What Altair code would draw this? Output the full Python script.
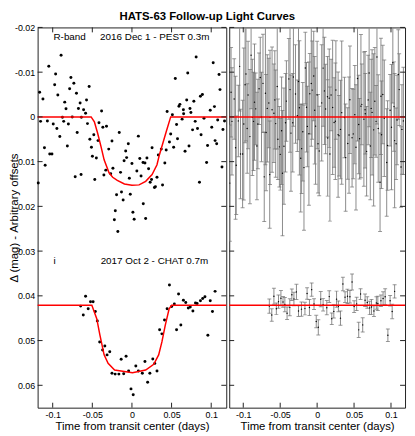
import altair as alt
import numpy as np
import pandas as pd

# ---------------- data ----------------
# R-band light curve (2016 Dec 1 - PEST 0.3m)
t_R = [-0.0894,-0.1049,-0.0963,-0.0770,-0.0733,-0.0975,-0.0786,-0.0540,-0.1165,-0.0935,
       -0.0700,-0.1123,-0.0573,-0.0848,-0.0654,-0.0832,-0.0675,-0.0610,-0.0585,-0.0383,
       -0.0877,-0.0753,-0.0638,-0.1153,-0.1067,-0.0861,-0.0993,-0.0802,-0.0561,-0.0416,
       -0.0367,-0.0321,-0.0947,-0.0691,-0.0160,-0.0481,-0.0910,-0.0531,-0.0428,-0.0252,
       -0.0046,-0.0815,-0.1104,-0.0511,-0.0293,-0.0079,-0.1037,-0.1009,-0.0499,-0.0449,
       -0.0067,
       0.0810,0.1025,0.0704,0.1099,0.0547,0.1111,0.0889,0.0864,0.0691,0.0781,
       0.0605,0.0593,0.0732,0.0649,0.1041,0.0988,0.0444,0.0744,0.0510,0.0652,
       0.0909,0.1082,0.0633,0.1168,0.0798,0.0563,0.1007,0.1148,0.0827,0.0765,
       0.0489,0.0872,0.0575,0.0081,0.0473,0.1049,0.1069,0.0720,0.0954,0.0526,
       0.0254,0.0370,0.0432,0.0670,0.0333,0.0099,0.0189,
       -0.1095,-0.1182,-0.0716,-0.0642,-0.0469,-0.0099,-0.0330,-0.0240,-0.0144,-0.0354,
       -0.0268,-0.0033,-0.0194,-0.0132,-0.0021,-0.0111,-0.0210,-0.0222,-0.0178,
       0.0140,0.0164,0.0062,0.0000,0.0115,0.0210,0.0415,0.0316,0.0247,0.0230,
       0.0284,0.0296,0.0386,0.0143,0.0012,0.0028,0.0173,0.0942,0.1136,0.0852]
m_R = [-0.0138,-0.0113,-0.0096,-0.0088,-0.0075,-0.0072,-0.0063,-0.0068,-0.0055,-0.0049,
       -0.0053,-0.0040,-0.0038,-0.0033,-0.0031,-0.0018,-0.0019,-0.0016,-0.0008,-0.0013,
       0.0001,0.0000,0.0001,0.0010,0.0009,0.0010,0.0016,0.0016,0.0015,0.0013,
       0.0023,0.0021,0.0026,0.0035,0.0035,0.0040,0.0044,0.0050,0.0053,0.0054,
       0.0060,0.0065,0.0069,0.0068,0.0072,0.0076,0.0083,0.0083,0.0088,0.0092,
       0.0091,
       -0.0134,-0.0121,-0.0098,-0.0095,-0.0086,-0.0061,-0.0050,-0.0046,-0.0038,-0.0035,
       -0.0028,-0.0024,-0.0019,-0.0016,-0.0023,-0.0015,-0.0012,-0.0010,-0.0005,-0.0007,
       0.0003,0.0007,0.0005,0.0009,0.0010,0.0017,0.0023,0.0028,0.0026,0.0029,
       0.0038,0.0040,0.0049,0.0043,0.0056,0.0053,0.0060,0.0065,0.0064,0.0068,
       0.0069,0.0072,0.0074,0.0077,0.0085,0.0093,0.0092,
       0.0108,0.0148,0.0134,0.0129,0.0140,0.0098,0.0119,0.0115,0.0124,0.0130,
       0.0127,0.0137,0.0174,0.0168,0.0173,0.0186,0.0210,0.0230,0.0256,
       0.0102,0.0103,0.0121,0.0104,0.0132,0.0116,0.0103,0.0135,0.0140,0.0146,
       0.0158,0.0156,0.0152,0.0194,0.0213,0.0229,0.0227,0.0102,0.0112,0.0146]
e_R = [0.012,0.010,0.015,0.009,0.011,0.013,0.008,0.014,0.010,0.012,
       0.016,0.009,0.011,0.013,0.010,0.008,0.012,0.014,0.011,0.009,
       0.013,0.010,0.015,0.012,0.008,0.011,0.017,0.010,0.012,0.009,
       0.014,0.011,0.010,0.013,0.008,0.012,0.015,0.009,0.011,0.013,
       0.010,0.012,0.016,0.009,0.011,0.014,0.010,0.012,0.008,0.013,
       0.011,0.015,0.009,0.012,0.010,0.014,0.008,0.011,0.013,0.010,
       0.012,0.009,0.016,0.011,0.013,0.010,0.008,0.012,0.014,0.011,
       0.009,0.013,0.010,0.015,0.012,0.008,0.011,0.014,0.010,0.012,
       0.017,0.010,0.012,0.009,0.013,0.011,0.015,0.008,0.012,0.010,
       0.014,0.011,0.009,0.013,0.010,0.016,0.012,0.008,0.011,0.013,
       0.010,0.012,0.014,0.009,0.011,0.015,0.010,0.013,0.008,0.012,
       0.011,0.009,0.013,0.016,0.010,0.012,0.014,0.009,0.011,0.013,
       0.012,0.010,0.015,0.008,0.011,0.013,0.010,0.014,0.009,0.012,
       0.013,0.011,0.010,0.015,0.012,0.009,0.011]
# model curve, R band
mod_R_t = [-0.12,-0.0515,-0.0474,-0.0432,-0.0391,-0.0351,-0.0289,-0.0243,-0.0185,-0.0095,
           0.0000,0.0090,0.0173,0.0254,0.0316,0.0346,0.0386,0.0436,0.0489,0.12]
mod_R_m = [0.0,0.0,0.0011,0.0037,0.0066,0.0096,0.0125,0.0135,0.0142,0.0150,
           0.0153,0.0152,0.0144,0.0129,0.0107,0.0085,0.0061,0.0031,0.0,0.0]

# i band light curve (2017 Oct 2 - CHAT 0.7m)
t_i = [-0.0647,-0.0614,-0.0585,-0.0552,-0.0523,-0.0490,-0.0462,-0.0437,-0.0407,-0.0370,
       -0.0342,-0.0314,-0.0280,-0.0252,-0.0212,-0.0165,-0.0104,-0.0136,-0.0074,-0.0042,
       0.0049,0.0081,0.0131,0.0164,0.0226,0.0263,0.0288,0.0316,-0.0012,0.0016,
       0.0198,0.0349,0.0378,0.0411,0.0444,0.0473,0.0501,0.0535,0.0563,0.0588,
       0.0617,0.0649,0.0679,0.0711,0.0736,0.0769,0.0802,0.0822,0.0864,0.0893,
       0.0921,0.0958,0.0988,0.1016,0.1049]
m_i = [0.0423,0.0443,0.0401,0.0429,0.0413,0.0413,0.0435,0.0456,0.0503,0.0521,
       0.0512,0.0532,0.0525,0.0573,0.0575,0.0575,0.0574,0.0542,0.0535,0.0568,
       0.0557,0.0568,0.0573,0.0547,0.0573,0.0541,0.0551,0.0568,0.0608,0.0621,
       0.0593,0.0476,0.0485,0.0454,0.0429,0.0376,0.0424,0.0418,0.0476,0.0396,
       0.0465,0.0410,0.0415,0.0427,0.0425,0.0434,0.0416,0.0417,0.0411,0.0406,
       0.0402,0.0488,0.0411,0.0435,0.0390]
e_i = [0.0016,0.0014,0.0018,0.0013,0.0015,0.0017,0.0012,0.0016,0.0014,0.0019,
       0.0013,0.0015,0.0017,0.0012,0.0016,0.0014,0.0018,0.0013,0.0015,0.0012,
       0.0017,0.0014,0.0016,0.0013,0.0015,0.0018,0.0012,0.0016,0.0014,0.0017,
       0.0013,0.0015,0.0012,0.0016,0.0014,0.0018,0.0013,0.0015,0.0017,0.0012,
       0.0016,0.0014,0.0013,0.0015,0.0017,0.0012,0.0014,0.0016,0.0013,0.0015,
       0.0018,0.0014,0.0012,0.0016,0.0015]
mod_i_t = [-0.12,-0.0506,-0.0444,-0.0404,-0.0351,-0.0301,-0.0219,0.0007,0.0173,0.0275,
           0.0337,0.0378,0.0420,0.0469,0.0501,0.12]
mod_i_m = [0.0421,0.0421,0.0451,0.0488,0.0532,0.0551,0.0566,0.0572,0.0566,0.0553,
           0.0532,0.0503,0.0466,0.0429,0.0421,0.0421]

baselines = [0.0, 0.0421]
ann_text = ["R-band", "2016 Dec 1 - PEST 0.3m", "i", "2017 Oct 2 - CHAT 0.7m"]
ann_t = [-0.0990, -0.0402, -0.0990, -0.0395]
ann_m = [-0.0173, -0.0173, 0.0328, 0.0328]

tick_x = [-0.1, -0.05, 0, 0.05, 0.1]
tick_y = [-0.02, -0.01, 0, 0.01, 0.02, 0.03, 0.04, 0.05, 0.06]

TITLE = "HATS-63 Follow-up Light Curves"
XTITLE = "Time from transit center (days)"
YTITLE = "Δ (mag) - Arbitrary offsets"

# ---------------- tables ----------------
pts = pd.DataFrame({"t": t_R + t_i, "m": m_R + m_i})
model = pd.DataFrame({"t": mod_R_t + mod_i_t, "m": mod_R_m + mod_i_m,
                      "band": ["R"] * len(mod_R_t) + ["i"] * len(mod_i_t)})
res_R = np.array(m_R) - np.interp(t_R, mod_R_t, mod_R_m) + baselines[0]
res_i = np.array(m_i) - np.interp(t_i, mod_i_t, mod_i_m) + baselines[1]
res = pd.DataFrame({"t": t_R + t_i,
                    "m": np.concatenate([res_R, res_i]),
                    "e": e_R + e_i})
res["lo"] = res["m"] - res["e"]
res["hi"] = res["m"] + res["e"]
ann = pd.DataFrame({"t": ann_t, "m": ann_m, "label": ann_text})
base_df = pd.DataFrame({"m": baselines})
ytick_df = pd.DataFrame({"m": tick_y})
xtick_df = pd.DataFrame({"t": tick_x})

# ---------------- layout ----------------
W1, W2, H = 191, 178, 385
FONT = "Liberation Sans"
FR = "#222222"
xs = alt.Scale(domain=[-0.119, 0.119], nice=False, zero=False)
ys = alt.Scale(domain=[-0.02, 0.065], reverse=True, nice=False, zero=False)

def x_axis():
    return alt.Axis(values=tick_x, ticks=False, domain=False, grid=False,
                    labelExpr="toString(datum.value)", labelFontSize=9, labelPadding=3,
                    labelOverlap=False, labelFlush=False, labelColor="black",
                    title=XTITLE, titleFontSize=11.5, titleFontWeight="normal",
                    titlePadding=1, titleColor="black")

y_axis = alt.Axis(values=tick_y, ticks=False, domain=False, grid=False,
                  labelExpr="toString(datum.value)", labelFontSize=9, labelPadding=3,
                  labelOverlap=False, labelFlush=False, labelColor="black",
                  title=YTITLE, titleFontSize=11.5, titleFontWeight="normal", titleColor="black",
                  titleX=-18, titleY=H / 2, titleAngle=270, titleBaseline="bottom", titleAlign="center")

def tick_layers(W, yaxis):
    L = alt.Chart(ytick_df).mark_rule(color=FR).encode(
        y=alt.Y("m:Q", scale=ys, axis=yaxis), x=alt.value(0), x2=alt.value(5))
    R = alt.Chart(ytick_df).mark_rule(color=FR).encode(
        y=alt.Y("m:Q", scale=ys, axis=yaxis), x=alt.value(W - 5), x2=alt.value(W))
    B = alt.Chart(xtick_df).mark_rule(color=FR).encode(
        x=alt.X("t:Q", scale=xs), y=alt.value(H - 5), y2=alt.value(H))
    T = alt.Chart(xtick_df).mark_rule(color=FR).encode(
        x=alt.X("t:Q", scale=xs), y=alt.value(0), y2=alt.value(5))
    return [L, R, B, T]

# left panel: light curves
lp = alt.Chart(pts).mark_circle(size=9, color="black", opacity=1).encode(
    x=alt.X("t:Q", scale=xs, axis=x_axis()),
    y=alt.Y("m:Q", scale=ys, axis=y_axis))
lm = alt.Chart(model).mark_line(color="#ff0000", strokeWidth=1.5, clip=True).encode(
    x=alt.X("t:Q", scale=xs), y=alt.Y("m:Q", scale=ys), detail="band:N", order="t:Q")
la = alt.Chart(ann).mark_text(align="left", baseline="alphabetic", fontSize=10,
                              font=FONT, color="black").encode(
    x=alt.X("t:Q", scale=xs), y=alt.Y("m:Q", scale=ys), text="label:N")
left = alt.layer(lp, lm, la, *tick_layers(W1, y_axis)).properties(width=W1, height=H)

# right panel: residuals
re = alt.Chart(res).mark_rule(color="#8a8a8a", strokeWidth=1, clip=True).encode(
    x=alt.X("t:Q", scale=xs, axis=x_axis()),
    y=alt.Y("lo:Q", scale=ys, axis=None), y2="hi:Q")
rc1 = alt.Chart(res).mark_tick(orient="horizontal", size=4, thickness=1,
                               color="#707070", clip=True).encode(
    x=alt.X("t:Q", scale=xs), y=alt.Y("hi:Q", scale=ys, axis=None))
rc2 = alt.Chart(res).mark_tick(orient="horizontal", size=4, thickness=1,
                               color="#707070", clip=True).encode(
    x=alt.X("t:Q", scale=xs), y=alt.Y("lo:Q", scale=ys, axis=None))
rp = alt.Chart(res).mark_circle(size=2, color="black", opacity=1, clip=True).encode(
    x=alt.X("t:Q", scale=xs), y=alt.Y("m:Q", scale=ys, axis=None))
rl = alt.Chart(base_df).mark_rule(color="#ff0000", strokeWidth=1.5).encode(
    y=alt.Y("m:Q", scale=ys, axis=None), x=alt.value(0), x2=alt.value(W2))
right = alt.layer(re, rc1, rc2, rp, rl, *tick_layers(W2, None)).properties(width=W2, height=H)

chart = alt.hconcat(left, right, spacing=0).resolve_scale(
    x="independent", y="independent").properties(
    title=alt.TitleParams(TITLE, fontSize=11.5, fontWeight="bold", anchor="middle",
                          offset=1, font=FONT, color="black"),
    padding=0
).configure(font=FONT).configure_view(stroke=FR, strokeWidth=1)

chart.save("out.html", embed_options={"renderer": "svg", "actions": False})
